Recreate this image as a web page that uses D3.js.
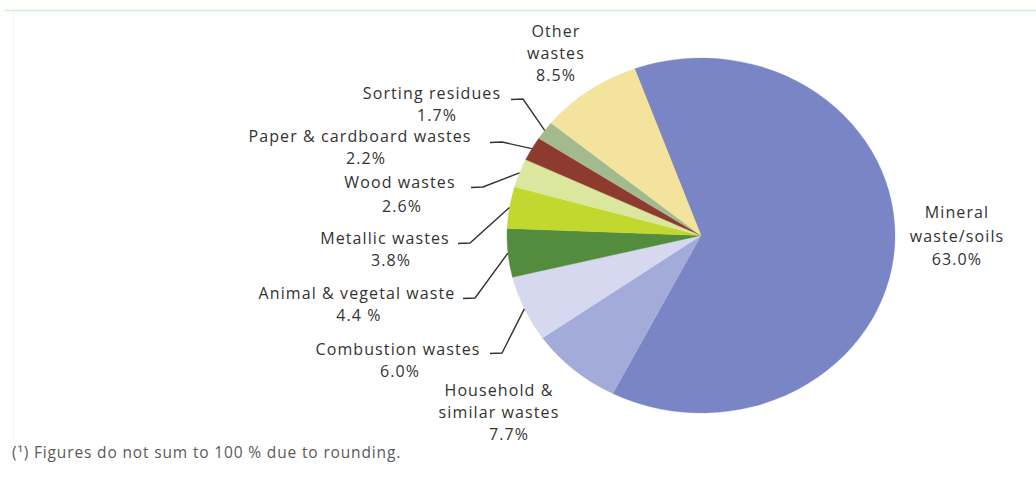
<!DOCTYPE html>
<html>
<head>
<meta charset="utf-8">
<script src="https://cdn.jsdelivr.net/npm/d3@7"></script>
<style>
  html, body { margin: 0; padding: 0; background: #ffffff; }
  svg { display: block; }
</style>
</head>
<body>
<svg id="chart" width="1036" height="485"></svg>
<script>
// ---- data ----
const categories = [
  "Mineral waste/soils",
  "Household & similar wastes",
  "Combustion wastes",
  "Animal & vegetal waste",
  "Metallic wastes",
  "Wood wastes",
  "Paper & cardboard wastes",
  "Sorting residues",
  "Other wastes"
];
const values = [63.0, 7.7, 6.0, 4.4, 3.8, 2.6, 2.2, 1.7, 8.5];
const percentLabels = ["63.0%", "7.7%", "6.0%", "4.4 %", "3.8%", "2.6%", "2.2%", "1.7%", "8.5%"];
const labelLines = [
  ["Mineral", "waste/soils"],
  ["Household &", "similar wastes"],
  ["Combustion wastes"],
  ["Animal & vegetal waste"],
  ["Metallic wastes"],
  ["Wood wastes"],
  ["Paper & cardboard wastes"],
  ["Sorting residues"],
  ["Other", "wastes"]
];
const colors = ["#7a85c5", "#a3abda", "#d5d8ef", "#528c3c", "#c2d82e", "#dbe79f", "#8d3a2f", "#a3ba8f", "#f3e39c"];
const footnote = "(\u00B9)  Figures do not sum to 100 % due to rounding.";

// ---- layout (styling/positions only) ----
const cx = 701, cy = 235.5, ry = 177.5, rx = 194;
const startDeg = -20;
// label block: centre x, first baseline, line step, pct x, leader knee (or null)
const labelLayout = [
  { x: 957, y: 218, step: 23.5, px: 957, knee: null },
  { x: 499, y: 396, step: 22, px: 509, knee: null },
  { x: 398, y: 355, step: 22, px: 400, knee: [502, 353] },
  { x: 357, y: 299, step: 22, px: 359, knee: [475, 298] },
  { x: 385, y: 244, step: 22, px: 391, knee: [470, 243] },
  { x: 400, y: 188, step: 24, px: 402, knee: [483, 187] },
  { x: 360, y: 141.5, step: 22, px: 366, knee: [502, 142] },
  { x: 432, y: 99, step: 22, px: 437, knee: [523, 99] },
  { x: 556, y: 37, step: 22, px: 556, knee: null }
];

const svg = d3.select("#chart");

// frame lines
svg.append("line").attr("x1", 5).attr("x2", 1036).attr("y1", 10.5).attr("y2", 10.5)
  .attr("stroke", "#cdf3cd").attr("stroke-width", 1.5);
svg.append("line").attr("x1", 13.5).attr("x2", 13.5).attr("y1", 12).attr("y2", 440)
  .attr("stroke", "#f4f4f4").attr("stroke-width", 1);

const pie = d3.pie().value(d => d).sort(null)
  .startAngle(startDeg * Math.PI / 180)
  .endAngle((startDeg + 360) * Math.PI / 180);
const arcs = pie(values);
const arc = d3.arc().innerRadius(0).outerRadius(ry);
const edge = d3.arc().innerRadius(ry).outerRadius(ry);

const g = svg.append("g").attr("transform", `translate(${cx},${cy}) scale(${rx / ry},1)`);
g.selectAll("path").data(arcs).enter().append("path")
  .attr("d", arc)
  .attr("fill", (d, i) => colors[i])
  .attr("stroke", (d, i) => colors[i])
  .attr("stroke-width", 0.3);

// leader lines
arcs.forEach((d, i) => {
  const L = labelLayout[i];
  if (!L.knee) return;
  const c = edge.centroid(d);
  const ex = cx + c[0] * rx / ry, ey = cy + c[1];
  svg.append("path")
    .attr("d", `M${L.knee[0] - 12},${L.knee[1] + 0.5}L${L.knee[0]},${L.knee[1]}L${ex},${ey}`)
    .attr("fill", "none").attr("stroke", "#333").attr("stroke-width", 1.4);
});

// labels: one text element per slice, lines as tspans
const font = "'Open Sans', 'Noto Sans', sans-serif";
const fs = 16;
arcs.forEach((d, i) => {
  const L = labelLayout[i];
  const lines = labelLines[i];
  const t = svg.append("text")
    .attr("text-anchor", "middle")
    .attr("font-family", font).attr("font-size", fs)
    .attr("letter-spacing", 1.1)
    .attr("fill", "#333");
  lines.forEach((s, j) => {
    t.append("tspan").attr("x", L.x).attr("y", L.y + j * L.step).text(s);
  });
  t.append("tspan").attr("x", L.px).attr("y", L.y + lines.length * L.step).text(percentLabels[i]);
});

svg.append("text").attr("x", 12).attr("y", 458)
  .attr("font-family", font).attr("font-size", 15.5)
  .attr("letter-spacing", 0.85)
  .attr("fill", "#5a5a5a").text(footnote);
</script>
</body>
</html>
